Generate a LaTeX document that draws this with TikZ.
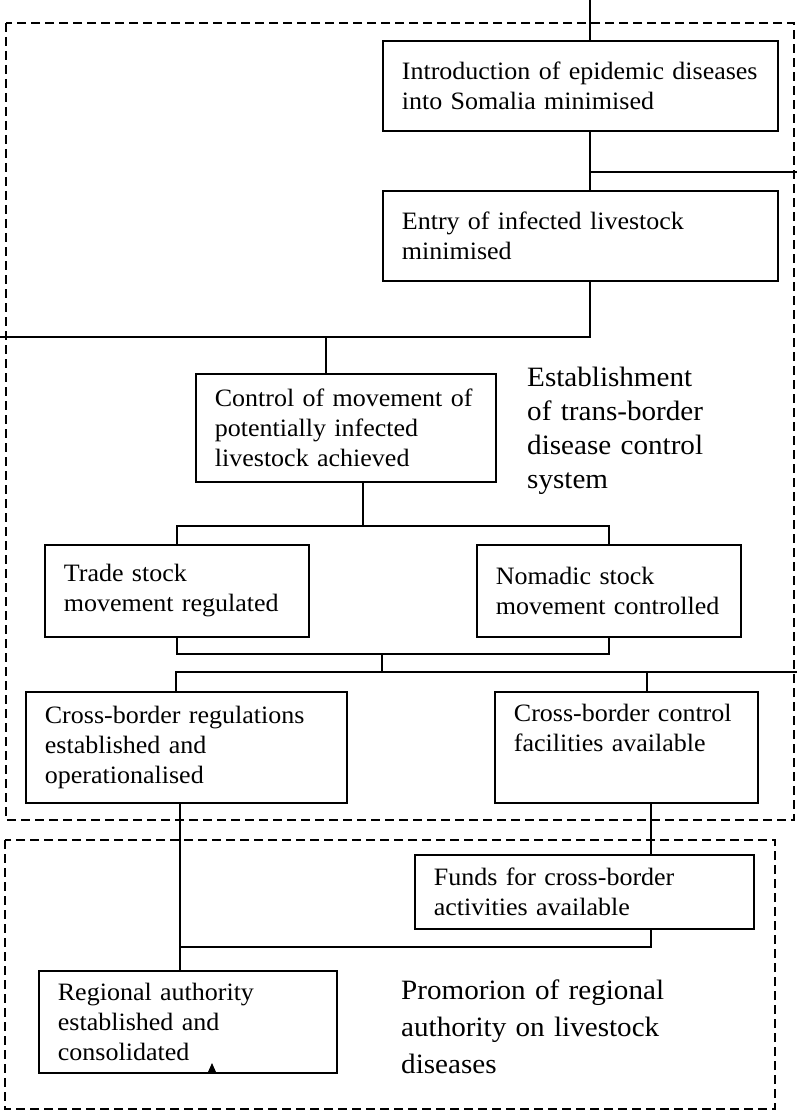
\documentclass[tikz,border=0pt]{standalone}
\usepackage{fontspec}
\setmainfont{Liberation Serif}[FakeStretch=1.04]
\begin{document}
\begin{tikzpicture}[x=1pt,y=-1pt,
  goal/.style={draw, line width=1.8pt, rectangle, anchor=north west, align=left,
    inner xsep=19pt, inner ysep=0pt, font=\fontsize{25}{30}\selectfont},
  link/.style={line width=1.8pt},
  frame/.style={line width=1.8pt, dash pattern=on 9pt off 5pt},
  caption/.style={anchor=base west, align=left, inner sep=0pt, text width=300pt}]
\useasboundingbox (0,0) rectangle (797,1115);

% dashed frames around the two result areas
\draw[frame] (6,23) rectangle (794,820);
\draw[frame] (5,840) rectangle (775,1109);

% result boxes
\node[goal, minimum width=395pt, minimum height=90pt, text width=357pt] (intro) at (382,40)
  {Introduction of epidemic diseases\\into Somalia minimised};
\node[goal, minimum width=395pt, minimum height=90pt, text width=357pt] (entry) at (382,190)
  {Entry of infected livestock\\minimised\\[6pt]};
\node[goal, minimum width=300pt, minimum height=108pt, text width=262pt] (control) at (195,373)
  {Control of movement of\\potentially infected\\livestock achieved};
\node[goal, minimum width=264pt, minimum height=92pt, text width=226pt] (trade) at (44,544)
  {Trade stock\\movement regulated};
\node[goal, minimum width=264pt, minimum height=92pt, text width=226pt] (nomadic) at (476,544)
  {Nomadic stock\\movement controlled};
\node[goal, minimum width=321pt, minimum height=111pt, text width=283pt] (regs) at (25,691)
  {Cross-border regulations\\established and\\operationalised};
\node[goal, minimum width=263pt, minimum height=111pt, text width=225pt] (facs) at (494,691)
  {Cross-border control\\facilities available\\\strut};
\node[goal, minimum width=339pt, minimum height=74pt, text width=301pt] (funds) at (414,854)
  {Funds for cross-border\\activities available};
\node[goal, minimum width=298pt, minimum height=102pt, text width=260pt] (auth) at (38,970)
  {Regional authority\\established and\\consolidated};

% area captions
\node[caption, font=\fontsize{28}{34}\selectfont] (estab) at (527,386)
  {Establishment\\of trans-border\\disease control\\system};
\node[caption, font=\fontsize{28}{37}\selectfont] (promo) at (401,999)
  {Promorion of regional\\authority on livestock\\diseases};

% connectors
\coordinate (feed) at (590,0);
\coordinate (sideout) at (797,172);
\coordinate (leftbus) at (0,337);
\coordinate (c3in) at (326,337);
\coordinate (c3out) at (363,526);
\coordinate (midA) at (382,654);
\coordinate (midB) at (382,672);
\coordinate (regin) at (176,672);
\coordinate (rightout) at (797,672);
\coordinate (facin) at (647,672);
\coordinate (regout) at (180,806);
\coordinate (facout) at (651,806);
\coordinate (joinB) at (180,947);

\draw[link] (feed) -- (feed |- intro.north);
\draw[link] (feed |- intro.south) -- (feed |- entry.north);
\draw[link] (feed |- sideout) -- (sideout);
\draw[link] (feed |- entry.south) -- (feed |- leftbus) -- (leftbus);
\draw[link] (c3in) -- (c3in |- control.north);
\draw[link] (c3out |- control.south) -- (c3out);
\draw[link] (trade.north) -- (trade.north |- c3out) -- (nomadic.north |- c3out) -- (nomadic.north);
\draw[link] (trade.south) -- (trade.south |- midA) -- (nomadic.south |- midA) -- (nomadic.south);
\draw[link] (midA) -- (midB);
\draw[link] (regin |- regs.north) -- (regin) -- (rightout);
\draw[link] (facin) -- (facin |- facs.north);
\draw[link] (regout |- regs.south) -- (regout |- auth.north);
\draw[link] (facout |- facs.south) -- (facout |- funds.north);
\draw[link] (facout |- funds.south) -- (facout |- joinB) -- (joinB);

% small mark on the lower edge of the authority box
\fill (208,1072) -- (212,1063) -- (216,1072) -- cycle;
\end{tikzpicture}
\end{document}
